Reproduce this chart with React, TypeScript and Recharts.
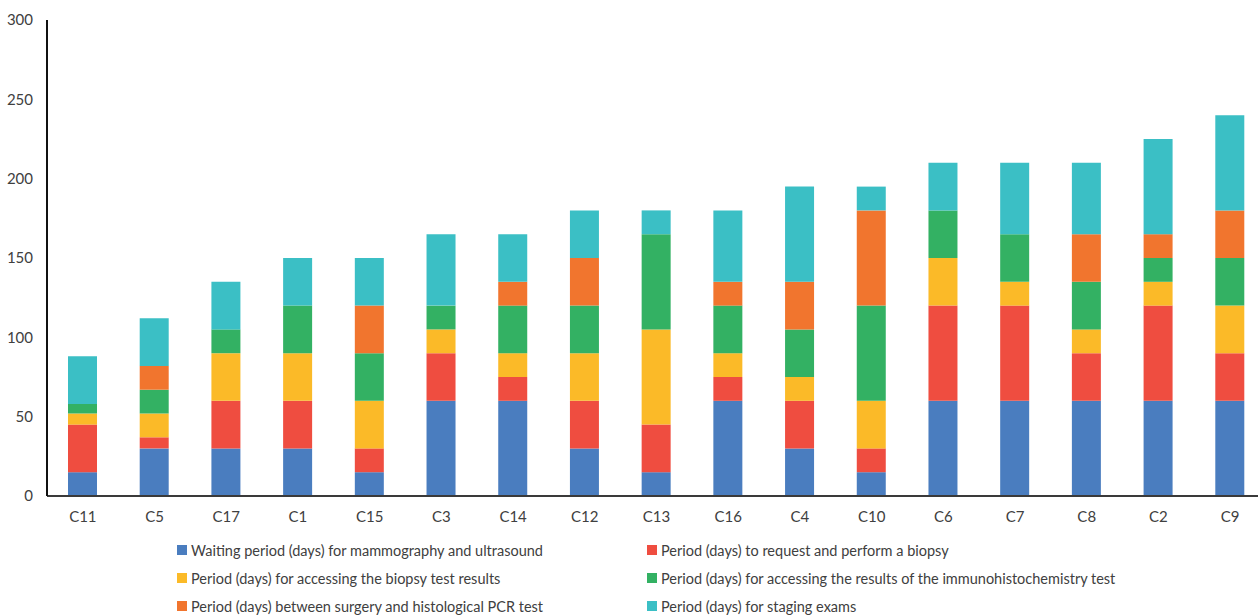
import React from "react";
import { BarChart, Bar, XAxis, YAxis, Legend } from "recharts";

// Clinic codes, ordered by total time to treatment
const clinics = ["C11", "C5", "C17", "C1", "C15", "C3", "C14", "C12", "C13", "C16", "C4", "C10", "C6", "C7", "C8", "C2", "C9"];

// Days per stage, one value per clinic
const mammography = [15, 30, 30, 30, 15, 60, 60, 30, 15, 60, 30, 15, 60, 60, 60, 60, 60];
const biopsy = [30, 7, 30, 30, 15, 30, 15, 30, 30, 15, 30, 15, 60, 60, 30, 60, 30];
const biopsyResults = [7, 15, 30, 30, 30, 15, 15, 30, 60, 15, 15, 30, 30, 15, 15, 15, 30];
const immunohistochemistry = [6, 15, 15, 30, 30, 15, 30, 30, 60, 30, 30, 60, 30, 30, 30, 15, 30];
const surgeryToPcr = [0, 15, 0, 0, 30, 0, 15, 30, 0, 15, 30, 60, 0, 0, 30, 15, 30];
const staging = [30, 30, 30, 30, 30, 45, 30, 30, 15, 45, 60, 15, 30, 45, 45, 60, 60];

const yTicks = [0, 50, 100, 150, 200, 250, 300];

const series = [
  { key: "mammography", name: "Waiting period (days) for mammography and ultrasound", color: "#4A7DBF", values: mammography },
  { key: "biopsy", name: "Period (days) to request and perform a biopsy", color: "#EF4D40", values: biopsy },
  { key: "biopsyResults", name: "Period (days) for accessing the biopsy test results", color: "#FBBA28", values: biopsyResults },
  { key: "immuno", name: "Period (days) for accessing the results of the immunohistochemistry test", color: "#33B163", values: immunohistochemistry },
  { key: "surgeryPcr", name: "Period (days) between surgery and histological PCR test", color: "#F1752E", values: surgeryToPcr },
  { key: "staging", name: "Period (days) for staging exams", color: "#3BBFC5", values: staging },
];

const data = clinics.map((clinic, i) => {
  const row: Record<string, string | number> = { clinic };
  series.forEach((s) => {
    row[s.key] = s.values[i];
  });
  return row;
});

const FONT = "Lato, 'Open Sans', sans-serif";
const TEXT = "#404040";

function LegendGrid() {
  return (
    <div
      style={{
        height: 94,
        boxSizing: "border-box",
        paddingTop: 20,
        paddingLeft: 177,
        display: "grid",
        gridTemplateColumns: "470px auto",
        gridAutoRows: "28px",
        fontFamily: FONT,
        fontSize: 14.5,
        color: TEXT,
      }}
    >
      {series.map((s) => (
        <div key={s.key} style={{ display: "flex", alignItems: "center", height: 28, whiteSpace: "nowrap" }}>
          <span style={{ display: "inline-block", width: 10, height: 10, background: s.color, marginRight: 4 }} />
          <span>{s.name}</span>
        </div>
      ))}
    </div>
  );
}

export default function App() {
  return (
    <div style={{ position: "absolute", left: 0, top: 0, width: 1258, height: 615, overflow: "hidden", background: "#fff" }}>
      <BarChart width={1266} height={615} data={data} margin={{ top: 20, right: 0, bottom: 5, left: 0 }}>
        <XAxis
          dataKey="clinic"
          height={20}
          tickLine={false}
          tickSize={0}
          tickMargin={15}
          axisLine={{ stroke: "#3a3a3a", strokeWidth: 2 }}
          tick={{ fill: TEXT, fontSize: 15, fontFamily: FONT }}
          interval={0}
        />
        <YAxis
          width={47}
          domain={[0, 300]}
          ticks={yTicks}
          tickLine={false}
          tickSize={0}
          tickMargin={14}
          axisLine={{ stroke: "#111", strokeWidth: 2 }}
          tick={{ fill: TEXT, fontSize: 15, fontFamily: FONT }}
        />
        <Legend verticalAlign="bottom" content={() => <LegendGrid />} />
        {series.map((s) => (
          <Bar key={s.key} dataKey={s.key} name={s.name} stackId="days" fill={s.color} barSize={29} isAnimationActive={false} />
        ))}
      </BarChart>
    </div>
  );
}
